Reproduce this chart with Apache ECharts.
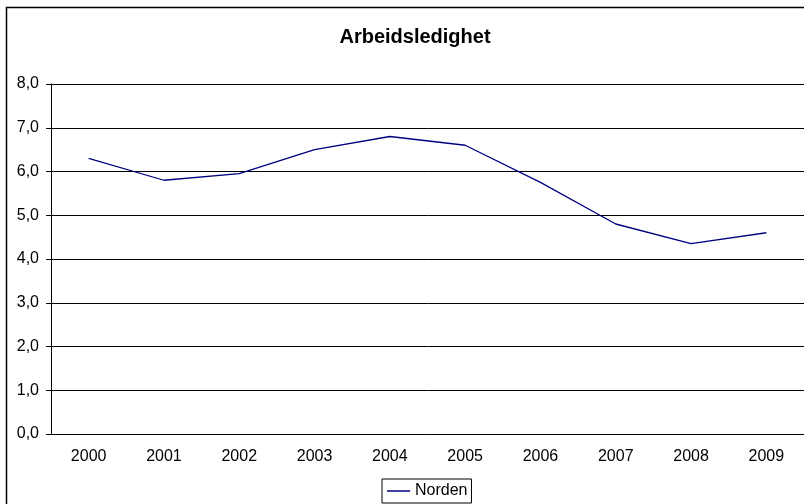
<!DOCTYPE html>
<html>
<head>
<meta charset="utf-8">
<script src="https://cdn.jsdelivr.net/npm/echarts@6/dist/echarts.min.js"></script>
<style>
  html, body { margin: 0; padding: 0; background: #fff; }
  #chart { width: 804px; height: 504px; }
</style>
</head>
<body>
<div id="chart"></div>
<script>
  // verdier lest av bildet
  var years = ['2000', '2001', '2002', '2003', '2004', '2005', '2006', '2007', '2008', '2009'];
  var norden = [6.3, 5.8, 5.95, 6.5, 6.8, 6.6, 5.75, 4.8, 4.35, 4.6];
  var yTicks = [0, 1, 2, 3, 4, 5, 6, 7, 8];

  var font = 'Liberation Sans, Arial, sans-serif';
  var chart = echarts.init(document.getElementById('chart'));

  chart.setOption({
    animation: false,
    textStyle: { fontFamily: font },
    title: {
      text: 'Arbeidsledighet',
      left: 410,
      top: 22,
      textAlign: 'center',
      textStyle: { fontFamily: font, fontSize: 20, fontWeight: 'bold', color: '#000' }
    },
    graphic: [{
      type: 'rect',
      shape: { x: 6.5, y: 7.5, width: 830, height: 530 },
      style: { fill: 'none', stroke: '#000', lineWidth: 1.5 },
      silent: true
    }],
    legend: {
      data: ['Norden'],
      left: 382,
      top: 479,
      icon: 'rect',
      itemWidth: 23,
      itemHeight: 1.5,
      itemGap: 5,
      padding: [4, 4, 4, 5],
      borderColor: '#000',
      borderWidth: 1,
      textStyle: { fontFamily: font, fontSize: 16, color: '#000' }
    },
    grid: { left: 51, right: -1, top: 84, bottom: 70 },
    xAxis: {
      type: 'category',
      data: years,
      axisLine: { lineStyle: { color: '#000', width: 1 } },
      axisTick: { length: 5, lineStyle: { color: '#000' } },
      axisLabel: { margin: 15, fontSize: 16, color: '#000', fontFamily: font }
    },
    yAxis: {
      type: 'value',
      min: yTicks[0],
      max: yTicks[yTicks.length - 1],
      interval: 1,
      axisLine: { show: true, lineStyle: { color: '#000', width: 1 } },
      axisTick: { show: true, length: 5, lineStyle: { color: '#000' } },
      axisLabel: {
        margin: 12, fontSize: 16, color: '#000', fontFamily: font,
        formatter: function (v) { return v.toFixed(1).replace('.', ','); }
      },
      splitLine: { lineStyle: { color: '#000', width: 1 } }
    },
    series: [{
      name: 'Norden',
      type: 'line',
      data: norden,
      symbol: 'none',
      lineStyle: { color: '#000080', width: 1.3 },
      itemStyle: { color: '#000080' }
    }]
  });
</script>
</body>
</html>
